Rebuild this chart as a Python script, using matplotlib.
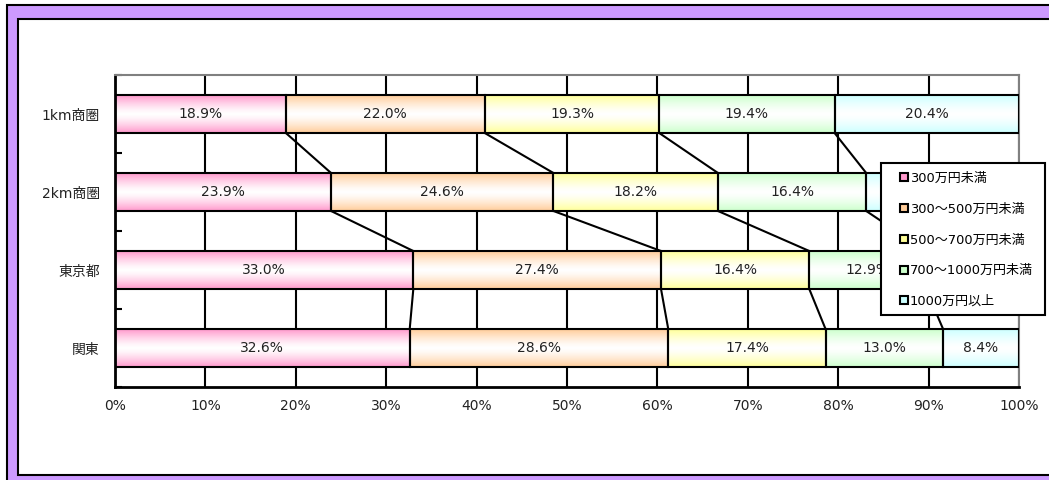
import numpy as np
import matplotlib
matplotlib.use("Agg")
import matplotlib.pyplot as plt
from matplotlib.colors import to_rgb
from matplotlib.patches import Rectangle
from matplotlib.lines import Line2D

plt.rcParams['font.family'] = ['DejaVu Sans', 'Noto Sans CJK JP']

# data (percent of households by annual income)
areas = ['1km商圏', '2km商圏', '東京都', '関東']
incomes = ['300万円未満', '300～500万円未満', '500～700万円未満',
           '700～1000万円未満', '1000万円以上']
share_lt300 = [18.9, 23.9, 33.0, 32.6]
share_300_500 = [22.0, 24.6, 27.4, 28.6]
share_500_700 = [19.3, 18.2, 16.4, 17.4]
share_700_1000 = [19.4, 16.4, 12.9, 13.0]
share_1000 = [20.4, 16.9, 10.3, 8.4]
colors = ['#FF99CC', '#FFCC99', '#FFFF99', '#CCFFCC', '#CCFFFF']

series = [share_lt300, share_300_500, share_500_700, share_700_1000, share_1000]

W, H = 1049, 480
fig = plt.figure(figsize=(W / 100, H / 100), dpi=100)

# purple frame + white inner panel
fig.patches.append(Rectangle((7 / W, -0.1), 2, 1.1 - 5 / H, transform=fig.transFigure,
                             facecolor='#CC99FF', edgecolor='black', lw=1.5, zorder=-2))
fig.patches.append(Rectangle((18 / W, 1 - 475 / H), 2, (475 - 19) / H, transform=fig.transFigure,
                             facecolor='white', edgecolor='black', lw=1.5, zorder=-1))

ax = fig.add_axes([115 / W, 1 - 387 / H, 904 / W, 312 / H])
ax.patch.set_alpha(0)


def grad(c, n=64):
    # vertical gradient: colour at the edges, white in the middle
    t = np.linspace(0, 1, n)
    w = np.abs(t - 0.5) * 2
    w = w ** 1.4
    rgb = np.array(to_rgb(c))
    img = (1 - w)[:, None] * np.ones(3) + w[:, None] * rgb
    return img[:, None, :]


bh = 0.487
y = np.arange(len(areas))
left = np.zeros(len(areas))
for vals, c in zip(series, colors):
    bars = ax.barh(y, vals, left=left, height=bh, facecolor='none',
                   edgecolor='black', lw=1.5, zorder=3)
    for b, v in zip(bars, vals):
        x0, y0, w, h = b.get_x(), b.get_y(), b.get_width(), b.get_height()
        ax.imshow(grad(c), extent=(x0, x0 + w, y0 + h, y0), aspect='auto',
                  interpolation='bilinear', zorder=2)
        ax.text(x0 + w / 2, y0 + h / 2, f'{v:.1f}%', ha='center', va='center',
                fontsize=10, color='#222222', zorder=4)
    left += np.array(vals)

# series lines between the bars
cum = np.cumsum(np.array(series), axis=0)
for i in range(len(areas) - 1):
    for j in range(len(series) - 1):
        ax.plot([cum[j, i], cum[j, i + 1]], [i + bh / 2, i + 1 - bh / 2],
                color='black', lw=1.5, zorder=3)

ax.set_xlim(0, 100)
ax.set_ylim(3.5, -0.5)
ax.set_xticks(range(0, 101, 10))
ax.set_xticklabels([f'{v}%' for v in range(0, 101, 10)])
ax.xaxis.grid(True, color='black', lw=1.5)
ax.set_axisbelow(True)
ax.tick_params(axis='x', length=0, pad=9, labelsize=10, labelcolor='#222222')
ax.set_yticks(y)
ax.set_yticklabels(areas)
ax.tick_params(axis='y', which='major', length=0, pad=11, labelsize=10, labelcolor='#222222')
ax.set_yticks(np.arange(-0.5, 4, 1), minor=True)
ax.tick_params(axis='y', which='minor', direction='in', length=5, width=1.5, color='black')
for s in ['top', 'right']:
    ax.spines[s].set_color('#808080')
    ax.spines[s].set_linewidth(1.5)
for s in ['left', 'bottom']:
    ax.spines[s].set_color('black')
    ax.spines[s].set_linewidth(2)

# legend box drawn as a figure patch, legend entries without frame on top
fig.patches.append(Rectangle((881 / W, 1 - 315 / H), 164 / W, 152 / H, transform=fig.transFigure,
                             facecolor='white', edgecolor='black', lw=1.5, zorder=4))
handles = [Line2D([], [], marker='s', ls='none', markersize=6, markerfacecolor=c,
                  markeredgecolor='black', markeredgewidth=1.5) for c in colors]
leg = fig.legend(handles, incomes, loc='upper left',
                 bbox_to_anchor=(900 / W, 1 - 172 / H),
                 fontsize=9.4, labelspacing=1.36, handlelength=0.6, handletextpad=0.15,
                 borderpad=0, borderaxespad=0, frameon=False)
leg.set_zorder(5)

fig.savefig('out.png', dpi=100)
